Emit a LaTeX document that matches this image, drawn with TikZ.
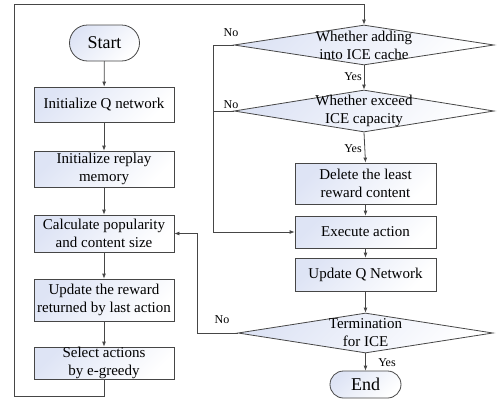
\documentclass[tikz,border=0pt]{standalone}
\usepackage{fontspec}
\setmainfont{Liberation Serif}
\usetikzlibrary{shapes.geometric,shapes.misc,arrows.meta}
\definecolor{linec}{RGB}{70,70,70}
\definecolor{fillc}{RGB}{222,228,245}
\tikzset{
  base/.style={draw=linec, line width=0.8pt, top color=fillc, bottom color=white, shading angle=45},
  procbox/.style={base, rectangle, minimum width=140pt, inner sep=0pt, align=center, font=\fontsize{15}{18}\selectfont},
  term/.style={base, rounded rectangle, inner sep=0pt, font=\fontsize{18}{20}\selectfont},
  dec/.style={base, diamond, inner sep=0pt, aspect=6.5},
  dtext/.style={align=center, font=\fontsize{15}{18}\selectfont, inner sep=0pt},
  lab/.style={font=\fontsize{12}{14}\selectfont, inner sep=0pt},
  conn/.style={draw=linec, line width=0.8pt},
  arr/.style={conn, -{Latex[length=5pt,width=4pt]}}
}
\begin{document}
\begin{tikzpicture}[x=1pt,y=-1pt]
\useasboundingbox (0,0) rectangle (499,410);
% left column
\node[term, minimum width=70pt, minimum height=36pt] (start) at (104.5,43) {Start};
\node[procbox, minimum height=35pt] (init) at (104,104.5) {Initialize Q network};
\node[procbox, minimum height=36pt] (mem) at (104,169) {Initialize replay\\memory};
\node[procbox, minimum height=37pt] (calc) at (104,233.5) {Calculate popularity\\and content size};
\node[procbox, minimum height=42pt] (rew) at (104,300) {Update the reward\\returned by last action};
\node[procbox, minimum height=32pt] (sel) at (104,363) {Select actions\\by e-greedy};
% right column
\node[dec, minimum width=260pt, minimum height=40pt] (d1) at (364,45) {};
\node[dtext] (d1t) at (d1.center) {Whether adding\\into ICE cache};
\node[dec, minimum width=260pt, minimum height=42pt] (d2) at (364,111) {};
\node[dtext] (d2t) at (d2.center) {Whether exceed\\ICE capacity};
\node[procbox, minimum width=141pt, minimum height=41pt] (del) at (365.5,183.5) {Delete the least\\reward content};
\node[procbox, minimum width=141pt, minimum height=32pt] (exe) at (365.5,232) {Execute action};
\node[procbox, minimum width=141pt, minimum height=33pt] (upq) at (365.5,274.5) {Update Q Network};
\node[dec, minimum width=255pt, minimum height=40pt] (d3) at (365.5,333) {};
\node[dtext] (d3t) at (d3.center) {Termination\\for ICE};
\node[term, minimum width=71pt, minimum height=27pt] (end) at (365.5,384.5) {End};
% coordinates
\coordinate (l1) at (104,396);
\coordinate (l2) at (14,396);
\coordinate (l3) at (14,4);
\coordinate (l4) at (364,4);
\coordinate (n1) at (213,45);
\coordinate (n2) at (213,111);
\coordinate (n3) at (213,232);
\coordinate (m1) at (197,333);
\coordinate (m2) at (197,233.5);
% connectors
\draw[arr] (start) -- (init);
\draw[arr] (init) -- (mem);
\draw[arr] (mem) -- (calc);
\draw[arr] (calc) -- (rew);
\draw[arr] (rew) -- (sel);
\draw[arr] (sel.south) -- (l1) -- (l2) -- (l3) -- (l4) -- (d1.north);
\draw[arr] (d1.south) -- (d2.north);
\draw[arr] (d2.south) -- (del.north);
\draw[arr] (del) -- (exe);
\draw[arr] (exe) -- (upq);
\draw[arr] (upq.south) -- (upq.south |- d3.north);
\draw[arr] (d3.south) -- (end.north -| d3.south);
\draw[conn] (d1.west) -- (n1) -- (n3);
\draw[conn] (d2.west) -- (n2);
\draw[arr] (n3) -- (exe.west);
\draw[arr] (d3.west) -- (m1) -- (m2) -- (calc.east);
% labels
\node[lab] (no1) at (231,33) {No};
\node[lab] (no2) at (231,105) {No};
\node[lab] (no3) at (222,320) {No};
\node[lab] (yes1) at (353,77) {Yes};
\node[lab] (yes2) at (353,149) {Yes};
\node[lab] (yes3) at (387,363) {Yes};
\end{tikzpicture}
\end{document}
